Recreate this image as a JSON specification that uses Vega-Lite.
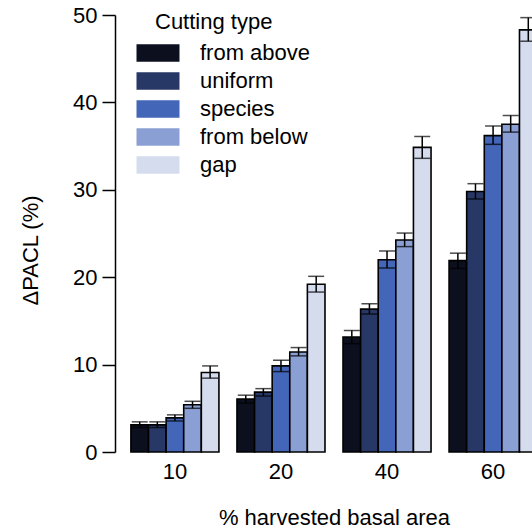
{
  "$schema": "https://vega.github.io/schema/vega-lite/v6.json",
  "autosize": {"type": "none"},
  "padding": {"left": 115, "top": 15, "right": 0, "bottom": 79},
  "width": 438,
  "height": 437,
  "config": {
    "font": "Liberation Sans",
    "view": {"stroke": null},
    "axis": {"labelFont": "Liberation Sans", "titleFont": "Liberation Sans", "labelColor": "black", "titleColor": "black", "grid": false}
  },
  "data": {"values": [
    {"harvest": "10", "type": "from above", "mean": 3.1, "lo": 2.8, "hi": 3.45},
    {"harvest": "10", "type": "uniform", "mean": 3.1, "lo": 2.8, "hi": 3.45},
    {"harvest": "10", "type": "species", "mean": 3.9, "lo": 3.55, "hi": 4.25},
    {"harvest": "10", "type": "from below", "mean": 5.4, "lo": 5.0, "hi": 5.8},
    {"harvest": "10", "type": "gap", "mean": 9.1, "lo": 8.45, "hi": 9.85},
    {"harvest": "20", "type": "from above", "mean": 6.05, "lo": 5.6, "hi": 6.5},
    {"harvest": "20", "type": "uniform", "mean": 6.85, "lo": 6.4, "hi": 7.25},
    {"harvest": "20", "type": "species", "mean": 9.85, "lo": 9.2, "hi": 10.5},
    {"harvest": "20", "type": "from below", "mean": 11.45, "lo": 11.0, "hi": 11.95},
    {"harvest": "20", "type": "gap", "mean": 19.2, "lo": 18.3, "hi": 20.1},
    {"harvest": "40", "type": "from above", "mean": 13.15, "lo": 12.4, "hi": 13.9},
    {"harvest": "40", "type": "uniform", "mean": 16.35, "lo": 15.8, "hi": 16.95},
    {"harvest": "40", "type": "species", "mean": 22.0, "lo": 21.05, "hi": 23.0},
    {"harvest": "40", "type": "from below", "mean": 24.25, "lo": 23.5, "hi": 25.05},
    {"harvest": "40", "type": "gap", "mean": 34.85, "lo": 33.6, "hi": 36.1},
    {"harvest": "60", "type": "from above", "mean": 21.9, "lo": 21.0, "hi": 22.75},
    {"harvest": "60", "type": "uniform", "mean": 29.8, "lo": 28.95, "hi": 30.7},
    {"harvest": "60", "type": "species", "mean": 36.2, "lo": 35.2, "hi": 37.3},
    {"harvest": "60", "type": "from below", "mean": 37.5, "lo": 36.6, "hi": 38.5},
    {"harvest": "60", "type": "gap", "mean": 48.3, "lo": 47.0, "hi": 49.7}
  ]},
  "encoding": {
    "x": {
      "field": "harvest", "type": "ordinal", "sort": ["10", "20", "40", "60"],
      "scale": {"paddingInner": 0.17, "paddingOuter": 0.15},
      "axis": {
        "title": "% harvested basal area", "titleFontSize": 22, "titleFontWeight": "normal",
        "labelFontSize": 22, "labelAngle": 0, "ticks": false, "domain": false,
        "labelPadding": 9, "titleBaseline": "alphabetic", "titleY": 72
      }
    },
    "xOffset": {
      "field": "type", "type": "nominal",
      "sort": ["from above", "uniform", "species", "from below", "gap"],
      "scale": {"paddingInner": 0, "paddingOuter": 0}
    }
  },
  "layer": [
    {
      "mark": {"type": "bar", "stroke": "black", "strokeWidth": 1.6},
      "encoding": {
        "y": {
          "field": "mean", "type": "quantitative",
          "scale": {"domain": [0, 50], "nice": false},
          "axis": {
            "title": "ΔPACL (%)", "titleFontSize": 22, "titleFontWeight": "normal",
            "values": [0, 10, 20, 30, 40, 50], "labelFontSize": 22, "tickSize": 13,
            "tickColor": "black", "domainColor": "black", "tickWidth": 1.5, "domainWidth": 1.5,
            "labelPadding": 5, "titleX": -85, "titleY": 235, "titleAngle": -90,
            "titleAlign": "center", "titleBaseline": "middle"
          }
        },
        "fill": {
          "field": "type", "type": "nominal",
          "sort": ["from above", "uniform", "species", "from below", "gap"],
          "scale": {"range": ["#0c101e", "#273766", "#4366b8", "#8a9fd3", "#d4dcee"]},
          "legend": {
            "title": "Cutting type", "orient": "none", "legendX": 40, "legendY": -3,
            "titleFontSize": 22, "titleFontWeight": "normal", "titleColor": "black",
            "titleFont": "Liberation Sans", "labelFont": "Liberation Sans",
            "labelFontSize": 22, "labelColor": "black", "labelOffset": 31,
            "symbolType": "M-2,-0.82H2V0.82H-2Z", "symbolSize": 462,
            "symbolStrokeWidth": 0, "symbolOffset": -8, "rowPadding": 6,
            "titlePadding": 8
          }
        }
      }
    },
    {
      "mark": {"type": "rule", "color": "black", "strokeWidth": 1.5},
      "encoding": {
        "y": {"field": "lo", "type": "quantitative"},
        "y2": {"field": "hi"}
      }
    },
    {
      "mark": {"type": "tick", "color": "black", "thickness": 1.5, "size": 16, "orient": "horizontal"},
      "encoding": {"y": {"field": "lo", "type": "quantitative"}}
    },
    {
      "mark": {"type": "tick", "color": "black", "thickness": 1.5, "size": 16, "orient": "horizontal"},
      "encoding": {"y": {"field": "hi", "type": "quantitative"}}
    }
  ]
}
